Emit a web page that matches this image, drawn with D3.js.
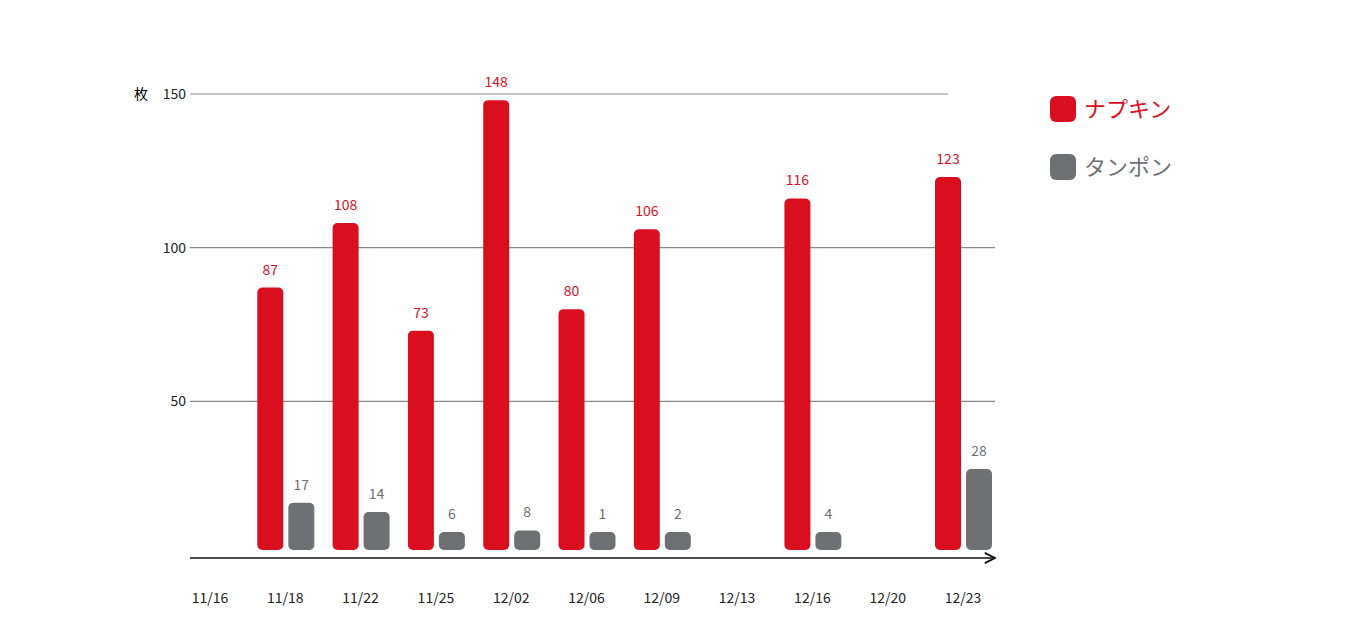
<!DOCTYPE html>
<html><head><meta charset="utf-8">
<script src="https://cdn.jsdelivr.net/npm/d3@7"></script>
<style>body{margin:0;background:#fff;font-family:"Noto Sans CJK JP","Noto Sans",sans-serif}</style>
</head><body><svg id="c" width="1364" height="643"></svg>
<script>
const dates = ["11/16","11/18","11/22","11/25","12/02","12/06","12/09","12/13","12/16","12/20","12/23"];
const napkin = [null,87,108,73,148,80,106,null,116,null,123];
const tampon = [null,17,14,6,8,1,2,null,4,null,28];
const yTicks = [50,100,150];
const seriesNames = ["ナプキン","タンポン"];
const colors = ["#d90f1f","#6e7073"];

const svg = d3.select("#c");
const x = d3.scalePoint().domain(dates).range([210,963]);
const y = d3.scaleLinear().domain([0,150]).range([555,94]);
const base = 550, minH = 18, bw = 26;

yTicks.forEach(t=>{
  svg.append("line").attr("x1",190).attr("x2",t===150?948:995).attr("y1",y(t)).attr("y2",y(t))
    .attr("stroke","#888").attr("stroke-width",1.2);
  svg.append("text").attr("x",186).attr("y",y(t)+5).attr("text-anchor","end")
    .attr("font-size",14).attr("fill","#222").text(t);
});
svg.append("text").attr("x",141).attr("y",y(150)+5).attr("text-anchor","middle").attr("font-size",14).text("枚");

svg.append("defs").append("marker").attr("id","ar").attr("viewBox","0 0 10 10").attr("refX",9).attr("refY",5)
  .attr("markerWidth",8).attr("markerHeight",8).attr("orient","auto")
  .append("path").attr("d","M1,1 L9,5 L1,9").attr("fill","none").attr("stroke","#111").attr("stroke-width",1.5);
svg.append("line").attr("x1",190).attr("x2",995).attr("y1",558).attr("y2",558)
  .attr("stroke","#111").attr("stroke-width",1.6).attr("marker-end","url(#ar)");

svg.selectAll(".xl").data(dates).join("text").attr("x",d=>x(d)).attr("y",603)
  .attr("text-anchor","middle").attr("font-size",14).attr("fill","#222").text(d=>d);

[napkin,tampon].forEach((arr,si)=>{
  const data = dates.map((d,i)=>({d,v:arr[i]})).filter(o=>o.v!=null);
  const off = si===0 ? -15-bw/2 : 16-bw/2;
  const top = v=>Math.min(y(v), base-minH);
  svg.selectAll(".b"+si).data(data).join("rect")
    .attr("x",o=>x(o.d)+off).attr("width",bw)
    .attr("y",o=>top(o.v)).attr("height",o=>base-top(o.v))
    .attr("rx",5).attr("fill",colors[si]);
  svg.selectAll(".l"+si).data(data).join("text")
    .attr("x",o=>x(o.d)+off+bw/2).attr("y",o=>top(o.v)-13)
    .attr("text-anchor","middle").attr("font-size",14).attr("fill",colors[si]).text(o=>o.v);
});

seriesNames.forEach((n,i)=>{
  svg.append("rect").attr("x",1050).attr("y",96+i*58).attr("width",26).attr("height",26).attr("rx",6).attr("fill",colors[i]);
  svg.append("text").attr("x",1084).attr("y",117+i*58).attr("font-size",22).attr("fill",colors[i]).text(n);
});
</script></body></html>
